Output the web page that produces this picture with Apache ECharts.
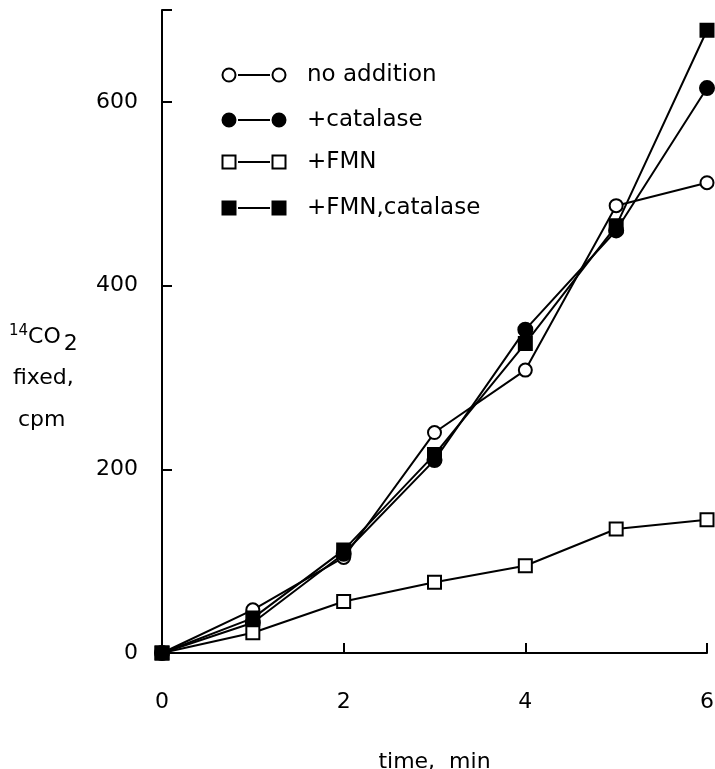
<!DOCTYPE html>
<html>
<head>
<meta charset="utf-8">
<script src="https://cdn.jsdelivr.net/npm/echarts@6/dist/echarts.min.js"></script>
<style>html,body{margin:0;padding:0;background:#fff}#c{width:715px;height:769px}</style>
</head>
<body>
<div id="c"></div>
<script>
var timeMin = [0, 1, 2, 3, 4, 5, 6];
var noAddition = [0, 47, 104, 240, 308, 487, 512];
var catalase = [0, 33, 108, 210, 352, 460, 615];
var fmn = [0, 22, 56, 77, 95, 135, 145];
var fmnCatalase = [0, 38, 112, 216, 337, 465, 678];
var xTicks = [0, 2, 4, 6];
var yTicks = [0, 200, 400, 600];
var legendNames = ['no addition', '+catalase', '+FMN', '+FMN,catalase'];

var FONT = '"DejaVu Sans", sans-serif';
var FS = 22;
var LFS = 23;
function pairs(ys){ return timeMin.map(function(x,i){ return [x, ys[i]]; }); }

var styles = [
  {symbol:'circle', fill:'#fff', size:13},
  {symbol:'circle', fill:'#000', size:14},
  {symbol:'rect', fill:'#fff', size:13},
  {symbol:'rect', fill:'#000', size:13}
];
var sets = [noAddition, catalase, fmn, fmnCatalase];

var series = sets.map(function(d, i){
  return {
    type:'line', name: legendNames[i], data: pairs(d),
    symbol: styles[i].symbol, symbolSize: styles[i].size,
    showAllSymbol: true,
    lineStyle:{color:'#000', width:2},
    itemStyle:{color: styles[i].fill, borderColor:'#000', borderWidth:2},
    emphasis:{disabled:true}, animation:false, z: 2 + i
  };
});

var graphics = [];
var rowsY = [75, 120, 162, 208];
rowsY.forEach(function(y, i){
  var st = styles[i];
  var s = 13;
  [229, 279].forEach(function(cx){
    if (st.symbol === 'circle') {
      graphics.push({type:'circle', shape:{cx:cx, cy:y, r:s/2}, style:{fill:st.fill, stroke:'#000', lineWidth:2}, z:10});
    } else {
      graphics.push({type:'rect', shape:{x:cx-s/2, y:y-s/2, width:s, height:s}, style:{fill:st.fill, stroke:'#000', lineWidth:2}, z:10});
    }
  });
  graphics.push({type:'line', shape:{x1:238, y1:y, x2:270, y2:y}, style:{stroke:'#000', lineWidth:2}, z:9});
  graphics.push({type:'text', x:307, y:y, style:{text: legendNames[i], font: LFS + 'px ' + FONT, fill:'#000', textVerticalAlign:'middle', verticalAlign:'middle'}, z:10});
});
// y-axis title
graphics.push({type:'text', x:9, y:337, style:{
  text:'{sup|14}{n|CO}{sub|2}',
  rich:{
    sup:{fontSize:15, fontFamily:FONT, fill:'#000', padding:[0,0,12,0]},
    n:{fontSize:FS, fontFamily:FONT, fill:'#000'},
    sub:{fontSize:FS, fontFamily:FONT, fill:'#000', padding:[14,0,0,3]}
  }, verticalAlign:'middle', textVerticalAlign:'middle'}, z:10});
graphics.push({type:'text', x:13, y:378, style:{text:'fixed,', font: FS + 'px ' + FONT, fill:'#000', verticalAlign:'middle', textVerticalAlign:'middle'}, z:10});
graphics.push({type:'text', x:18, y:420, style:{text:'cpm', font: FS + 'px ' + FONT, fill:'#000', verticalAlign:'middle', textVerticalAlign:'middle'}, z:10});

var chart = echarts.init(document.getElementById('c'), null, {renderer:'canvas'});
chart.setOption({
  animation:false,
  backgroundColor:'#fff',
  grid:{left:162, right:8, top:10, bottom:116, containLabel:false, outerBoundsMode:'none'},
  xAxis:{
    type:'value', min:0, max:6, interval:2,
    name:'time,  min', nameLocation:'middle', nameGap:98,
    nameTextStyle:{fontSize:FS, fontFamily:FONT, color:'#000'},
    axisLine:{show:true, onZero:false, lineStyle:{color:'#000', width:2}},
    axisTick:{show:true, inside:true, length:10, lineStyle:{color:'#000', width:2}},
    axisLabel:{fontSize:FS, fontFamily:FONT, color:'#000', margin:38,
      formatter:function(v){ return xTicks.indexOf(v) >= 0 ? String(v) : ''; }},
    splitLine:{show:false}
  },
  yAxis:{
    type:'value', min:0, max:700, interval:200,
    axisLine:{show:true, onZero:false, lineStyle:{color:'#000', width:2}},
    axisTick:{show:true, inside:true, length:10, lineStyle:{color:'#000', width:2}},
    axisLabel:{fontSize:FS, fontFamily:FONT, color:'#000', margin:24,
      formatter:function(v){ return yTicks.indexOf(v) >= 0 ? String(v) : ''; }},
    splitLine:{show:false}
  },
  graphic: graphics,
  series: series
});
</script>
</body>
</html>
